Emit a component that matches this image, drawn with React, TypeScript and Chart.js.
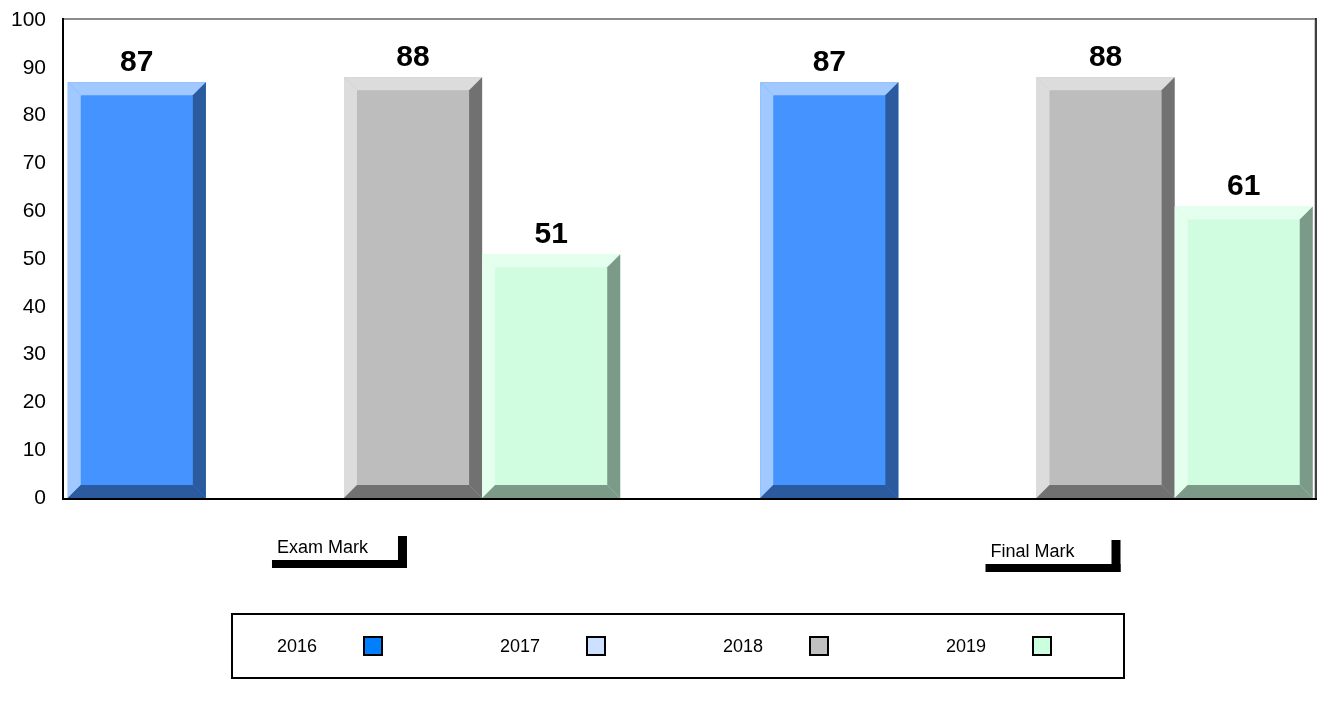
import React, { useEffect, useRef } from 'react';
import { Chart, registerables } from 'chart.js';

Chart.register(...registerables);

// ---- data ----
const categories = ['Exam Mark', 'Final Mark'];
const seriesNames = ['2016', '2017', '2018', '2019'];
const values2016: (number | null)[] = [87, 87];
const values2017: (number | null)[] = [null, null];
const values2018: (number | null)[] = [88, 88];
const values2019: (number | null)[] = [51, 61];
const yTickValues = [0, 10, 20, 30, 40, 50, 60, 70, 80, 90, 100];

// ---- styles ----
const legendColors = ['#0080FF', '#CCE0FF', '#C0C0C0', '#CCFFDD'];
const faceColors = ['#4493FF', '#D6E7FF', '#BDBDBD', '#D0FCE0'];
const lightColors = ['#A2C9FF', '#EAF3FF', '#DCDCDC', '#E5FFEF'];
const darkColors = ['#2B5B9E', '#8595AA', '#717171', '#7B9A88'];
const FONT = "'Liberation Sans', Arial, Helvetica, sans-serif";

const allSeries = [values2016, values2017, values2018, values2019];

const drawPlugin = {
  id: 'customDraw',
  afterDatasetsDraw(chart: any) {
    const ctx = chart.ctx as CanvasRenderingContext2D;
    const area = chart.chartArea;
    const b = 13;
    // bevels
    chart.data.datasets.forEach((ds: any, di: number) => {
      const meta = chart.getDatasetMeta(di);
      meta.data.forEach((el: any, i: number) => {
        const v = allSeries[di][i];
        if (v === null || v === undefined) return;
        const p = el.getProps(['x', 'y', 'base', 'width'], true);
        const L = p.x - p.width / 2;
        const R = p.x + p.width / 2;
        const T = p.y;
        const B = p.base;
        ctx.save();
        ctx.fillStyle = lightColors[di];
        ctx.beginPath();
        ctx.moveTo(L, T); ctx.lineTo(R, T); ctx.lineTo(R - b, T + b); ctx.lineTo(L + b, T + b); ctx.closePath();
        ctx.fill();
        ctx.beginPath();
        ctx.moveTo(L, T); ctx.lineTo(L + b, T + b); ctx.lineTo(L + b, B - b); ctx.lineTo(L, B); ctx.closePath();
        ctx.fill();
        ctx.fillStyle = darkColors[di];
        ctx.beginPath();
        ctx.moveTo(R, T); ctx.lineTo(R, B); ctx.lineTo(R - b, B - b); ctx.lineTo(R - b, T + b); ctx.closePath();
        ctx.fill();
        ctx.beginPath();
        ctx.moveTo(L, B); ctx.lineTo(R, B); ctx.lineTo(R - b, B - b); ctx.lineTo(L + b, B - b); ctx.closePath();
        ctx.fill();
        ctx.restore();

        ctx.save();
        ctx.fillStyle = '#000';
        ctx.font = `bold 30px ${FONT}`;
        ctx.textAlign = 'center';
        ctx.textBaseline = 'alphabetic';
        ctx.fillText(String(v), p.x, T - 11);
        ctx.restore();
      });
    });

    // frame
    ctx.save();
    ctx.lineCap = 'butt';
    ctx.strokeStyle = '#666';
    ctx.lineWidth = 1.5;
    ctx.beginPath();
    ctx.moveTo(area.left, area.top - 1);
    ctx.lineTo(area.right, area.top - 1);
    ctx.stroke();
    ctx.strokeStyle = '#ccc';
    ctx.lineWidth = 1;
    ctx.beginPath();
    ctx.moveTo(area.right - 1.5, area.top);
    ctx.lineTo(area.right - 1.5, area.bottom);
    ctx.stroke();
    ctx.strokeStyle = '#000';
    ctx.lineWidth = 1.5;
    ctx.beginPath();
    ctx.moveTo(area.right, area.top - 2);
    ctx.lineTo(area.right, area.bottom);
    ctx.stroke();
    ctx.lineWidth = 2;
    ctx.beginPath();
    ctx.moveTo(area.left - 1, area.top - 2);
    ctx.lineTo(area.left - 1, area.bottom + 1);
    ctx.stroke();
    ctx.beginPath();
    ctx.moveTo(area.left - 2, area.bottom + 1);
    ctx.lineTo(area.right + 1, area.bottom + 1);
    ctx.stroke();
    ctx.restore();

    // category labels with shadow brackets
    const xScale = chart.scales.x;
    const labelDx = [-9, 12];
    const labelDy = [0, 4];
    categories.forEach((cat, i) => {
      const cx = xScale.getPixelForValue(i) + labelDx[i];
      const boxW = 126;
      const left = cx - boxW / 2;
      const right = cx + boxW / 2;
      const top = area.bottom + 38 + labelDy[i];
      const bottom = top + 24;
      ctx.save();
      ctx.fillStyle = '#000';
      ctx.fillRect(left, bottom, right - left + 9, 8);
      ctx.fillRect(right, top, 9, bottom - top + 8);
      ctx.font = `18px ${FONT}`;
      ctx.textAlign = 'left';
      ctx.textBaseline = 'alphabetic';
      ctx.fillText(cat, left + 5, bottom - 7);
      ctx.restore();
    });

    // legend
    const lx = 232, ly = 614, lw = 892, lh = 64;
    ctx.save();
    ctx.strokeStyle = '#000';
    ctx.lineWidth = 2;
    ctx.strokeRect(lx, ly, lw, lh);
    ctx.font = `18px ${FONT}`;
    ctx.textBaseline = 'middle';
    ctx.textAlign = 'left';
    const step = 223;
    seriesNames.forEach((name, i) => {
      const tx = lx + 45 + i * step;
      const cy = ly + lh / 2;
      ctx.fillStyle = '#000';
      ctx.fillText(name, tx, cy + 1);
      const sx = tx + 87;
      ctx.fillStyle = legendColors[i];
      ctx.fillRect(sx, cy - 9, 18, 18);
      ctx.lineWidth = 2;
      ctx.strokeStyle = '#000';
      ctx.strokeRect(sx, cy - 9, 18, 18);
    });
    ctx.restore();
  },
};

export default function App() {
  const canvasRef = useRef<HTMLCanvasElement | null>(null);

  useEffect(() => {
    if (!canvasRef.current) return;
    const datasets = seriesNames.map((name, di) => ({
      label: name,
      data: allSeries[di].map((v, i) => ({ x: i, y: v })),
      backgroundColor: faceColors[di],
      borderWidth: 0,
      categoryPercentage: 0.7978,
      barPercentage: 1,
    }));
    const chart = new Chart(canvasRef.current, {
      type: 'bar',
      data: { datasets } as any,
      options: {
        animation: false,
        responsive: false,
        maintainAspectRatio: false,
        layout: { padding: { left: 0, top: 20, right: 3, bottom: 213 } },
        plugins: { legend: { display: false }, tooltip: { enabled: false } },
        scales: {
          x: {
            type: 'linear',
            offset: false,
            min: -0.4043,
            max: 1.4036,
            afterBuildTicks: (s: any) => {
              s.ticks = categories.map((_, i) => ({ value: i }));
            },
            ticks: { display: false },
            grid: { display: false, drawTicks: false, offset: false },
            border: { display: false },
          },
          y: {
            min: 0,
            max: 100,
            afterBuildTicks: (s: any) => {
              s.ticks = yTickValues.map((v) => ({ value: v }));
            },
            afterFit: (s: any) => {
              s.width = 64;
              s.paddingTop = 0;
              s.paddingBottom = 0;
            },
            ticks: {
              color: '#000',
              padding: 18,
              font: { family: FONT, size: 21 },
            },
            grid: { display: false, drawTicks: false },
            border: { display: false },
          },
        },
      } as any,
      plugins: [drawPlugin],
    });
    return () => chart.destroy();
  }, []);

  return (
    <div style={{ position: 'fixed', left: 0, top: 0, width: 1319, height: 711, background: '#fff' }}>
      <canvas ref={canvasRef} width={1319} height={711} style={{ width: 1319, height: 711 }} />
    </div>
  );
}
